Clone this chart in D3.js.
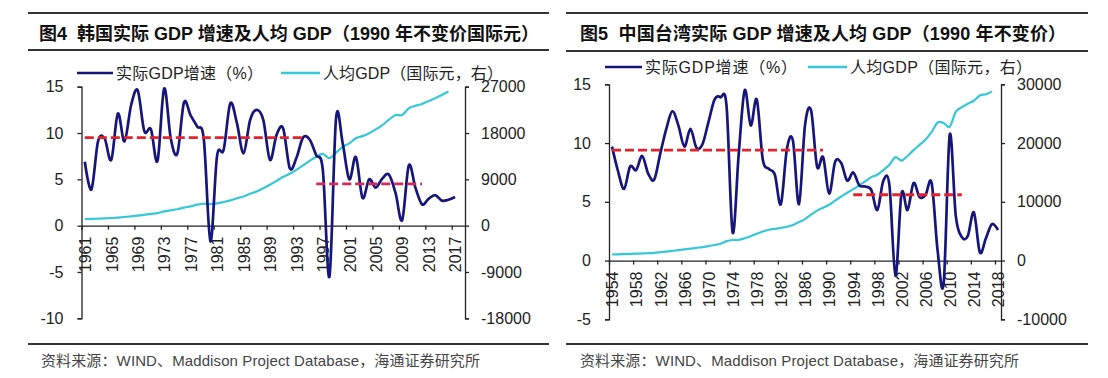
<!DOCTYPE html>
<html>
<head>
<meta charset="utf-8">
<script src="https://cdn.jsdelivr.net/npm/d3@7"></script>
<style>
body { margin: 0; background: #fff; }
svg { display: block; font-family: "Liberation Sans", Arial, "Noto Sans CJK SC", sans-serif; }
</style>
</head>
<body>
<svg id="chart" width="1108" height="378"></svg>
<script>
// ---------------- data ----------------
// Korea, 1961-2017 real GDP growth (%), per capita GDP 1961-2016
var krStartYear = 1961;
var krGrowth = [6.9, 3.9, 9.1, 9.4, 7.1, 12.1, 9.1, 13.0, 14.6, 10.2,
    10.4, 7.0, 14.8, 9.4, 7.8, 13.3, 11.9, 10.7, 9.3, -1.7,
    7.5, 8.2, 13.2, 11.1, 7.8, 11.4, 12.5, 11.4, 7.1, 9.8,
    10.5, 6.2, 7.3, 9.5, 9.3, 7.6, 6.0, -5.5, 11.6, 8.9,
    5.0, 7.4, 3.0, 5.0, 4.1, 5.1, 5.5, 3.5, 0.6, 6.5,
    4.1, 2.3, 2.9, 3.3, 2.7, 2.8, 3.1];
var krPerCapita = [1290, 1300, 1360, 1420, 1490, 1580, 1680, 1800, 1940, 2100,
    2280, 2430, 2780, 2990, 3180, 3510, 3750, 4080, 4260, 4200,
    4330, 4590, 4910, 5320, 5680, 6210, 6650, 7280, 7950, 8700,
    9500, 10100, 10850, 11700, 12600, 13400, 13950, 13100, 14200, 15300,
    16000, 17000, 17400, 17950, 18700, 19550, 20600, 21500, 21500, 22800,
    23300, 23650, 24200, 24750, 25400, 26050];
var krTickYears = [1961, 1965, 1969, 1973, 1977, 1981, 1985, 1989, 1993, 1997, 2001, 2005, 2009, 2013, 2017];
var krAvg = [{from: 1961, to: 1994, value: 9.5, color: "#e3232b"},
             {from: 1996, to: 2012, value: 4.5, color: "#d4275a"}];
var krLeftTicks = [-10, -5, 0, 5, 10, 15];
var krRightTicks = [-18000, -9000, 0, 9000, 18000, 27000];

// Taiwan, 1954-2018 real GDP growth (%), per capita GDP 1954-2017
var twStartYear = 1954;
var twGrowth = [9.7, 7.6, 6.1, 8.0, 7.7, 8.9, 7.4, 6.9, 9.1, 11.2,
    12.7, 11.5, 9.7, 11.2, 9.6, 9.9, 11.8, 13.7, 13.9, 13.1,
    2.4, 9.0, 14.5, 11.5, 13.7, 8.6, 7.8, 7.3, 4.8, 9.5,
    10.2, 4.8, 11.5, 12.8, 8.0, 8.8, 5.7, 8.4, 8.3, 6.8,
    7.5, 6.4, 6.3, 6.0, 4.3, 6.8, 6.4, -1.3, 5.7, 4.3,
    6.6, 5.4, 5.6, 6.6, 0.8, -1.9, 10.7, 3.8, 2.0, 2.1,
    4.1, 0.7, 1.9, 3.1, 2.6];
var twPerCapita = [1030, 1060, 1090, 1130, 1170, 1210, 1260, 1320, 1420, 1530,
    1650, 1770, 1890, 2030, 2170, 2300, 2460, 2650, 2870, 3300,
    3500, 3520, 3800, 4150, 4570, 4950, 5250, 5400, 5550, 5750,
    6050, 6550, 7050, 7800, 8500, 9000, 9500, 10200, 10900, 11550,
    12150, 12800, 13500, 14200, 14600, 15400, 16300, 17600, 17000, 17800,
    18800, 19700, 20600, 21900, 23500, 23400, 22800, 25300, 26100, 26700,
    27200, 28100, 28300, 28800];
var twTickYears = [1954, 1958, 1962, 1966, 1970, 1974, 1978, 1982, 1986, 1990, 1994, 1998, 2002, 2006, 2010, 2014, 2018];
var twAvg = [{from: 1954, to: 1989, value: 9.4, color: "#e3232b"},
             {from: 1994, to: 2012, value: 5.6, color: "#e3232b"}];
var twLeftTicks = [-5, 0, 5, 10, 15];
var twRightTicks = [-10000, 0, 10000, 20000, 30000];

var legendNames = ["实际GDP增速（%）", "人均GDP（国际元，右）"];
var sourceText = "资料来源：WIND、Maddison Project Database，海通证券研究所";

var NAVY = "#16167a", CYAN = "#34c8d8";

var svg = d3.select("#chart");

function drawPanel(p) {
    var g = svg.append("g");

    // frame lines
    [p.topLine, p.titleLine, p.bottomLine].forEach(function(yy, i) {
        g.append("line")
            .attr("x1", p.frame[0]).attr("x2", p.frame[1])
            .attr("y1", yy).attr("y2", yy)
            .attr("stroke", "#333").attr("stroke-width", i == 0 ? 2 : 2.2);
    });

    g.append("text")
        .attr("x", p.titleX).attr("y", p.titleY)
        .style("white-space", "pre")
        .attr("font-size", 18).attr("font-weight", "bold").attr("fill", "#111")
        .attr("textLength", p.titleWidth).attr("lengthAdjust", "spacing")
        .text(p.title);

    // legend
    var lg = g.append("g").attr("transform", "translate(0," + p.legendY + ")");
    [NAVY, CYAN].forEach(function(c, i) {
        lg.append("line").attr("x1", p.legendX[i][0]).attr("x2", p.legendX[i][1])
            .attr("y1", 0).attr("y2", 0).attr("stroke", c).attr("stroke-width", 2.6);
        lg.append("text").attr("x", p.legendX[i][1] + 3).attr("y", 5.5)
            .attr("font-size", 16).attr("fill", "#222")
            .attr("textLength", p.legendW[i]).attr("lengthAdjust", "spacing")
            .text(legendNames[i]);
    });

    // scales
    var x = d3.scaleLinear().domain([p.start, p.endBoundary]).range(p.xRange);
    var y = d3.scaleLinear().domain(d3.extent(p.leftTicks)).range(p.yRange);
    var y2 = d3.scaleLinear().domain(d3.extent(p.rightTicks)).range(p.yRange);
    var cx = function(i) { return x(p.start + i + 0.5); };

    // axes
    var ax = g.append("g").attr("transform", "translate(" + p.xRange[0] + ",0)")
        .call(d3.axisLeft(y).tickValues(p.leftTicks).tickSize(4).tickSizeOuter(4).tickPadding(14)
            .tickFormat(function(d) { return String(d); }));
    var ax2 = g.append("g").attr("transform", "translate(" + p.xRange[1] + ",0)")
        .call(d3.axisRight(y2).tickValues(p.rightTicks).tickSize(4).tickSizeOuter(4).tickPadding(12)
            .tickFormat(function(d) { return String(d); }));
    var step = x(p.start + 1) - x(p.start);
    var axb = g.append("g").attr("transform", "translate(0," + y(0) + ")")
        .call(d3.axisBottom(x).tickValues(p.tickYears).tickSize(4).tickSizeOuter(0)
            .tickFormat(function(d) { return String(d); }));
    axb.selectAll("text")
        .attr("text-anchor", "end")
        .attr("transform", "translate(" + (step / 2) + ",0) rotate(-90)")
        .attr("x", -11).attr("y", 0).attr("dy", "0.36em");

    [ax, ax2, axb].forEach(function(a) {
        a.selectAll("path, line").attr("stroke", "#222").attr("stroke-width", 1.3);
        a.selectAll("text").attr("font-size", 16).attr("fill", "#222")
            .attr("font-family", "Liberation Sans, Arial, sans-serif");
    });

    var curve = d3.curveCardinal.tension(0);

    g.append("path")
        .datum(p.perCapita)
        .attr("fill", "none").attr("stroke", CYAN).attr("stroke-width", 2.2)
        .attr("d", d3.line().curve(curve).x(function(d, i) { return cx(i); }).y(function(d) { return y2(d); }));

    g.append("path")
        .datum(p.growth)
        .attr("fill", "none").attr("stroke", NAVY).attr("stroke-width", 2.7)
        .attr("stroke-linejoin", "round")
        .attr("d", d3.line().curve(curve).x(function(d, i) { return cx(i); }).y(function(d) { return y(d); }));

    // average dashes
    p.avg.forEach(function(a) {
        g.append("line")
            .attr("x1", x(a.from + 0.5)).attr("x2", x(a.to + 0.5))
            .attr("y1", y(a.value)).attr("y2", y(a.value))
            .attr("stroke", a.color).attr("stroke-width", 2.8)
            .attr("stroke-dasharray", "9,4");
    });

    g.append("text")
        .attr("x", p.sourceX).attr("y", p.sourceY)
        .attr("font-size", 15).attr("fill", "#444")
        .attr("textLength", 439).attr("lengthAdjust", "spacing")
        .text(sourceText);
}

drawPanel({
    title: "图4  韩国实际 GDP 增速及人均 GDP（1990 年不变价国际元）",
    titleWidth: 500,
    frame: [28, 549], topLine: 13, titleLine: 50, bottomLine: 344,
    titleX: 39, titleY: 40, legendY: 73,
    legendX: [[77, 113], [281, 320]], legendW: [147, 180],
    start: krStartYear, endBoundary: 2019,
    xRange: [81.5, 465], yRange: [318.3, 86.7],
    leftTicks: krLeftTicks, rightTicks: krRightTicks,
    growth: krGrowth, perCapita: krPerCapita, tickYears: krTickYears, avg: krAvg,
    sourceX: 41, sourceY: 366
});

drawPanel({
    title: "图5  中国台湾实际 GDP 增速及人均 GDP（1990 年不变价）",
    titleWidth: 486,
    frame: [566, 1088], topLine: 13, titleLine: 51, bottomLine: 344,
    titleX: 580, titleY: 40, legendY: 67,
    legendX: [[605, 642], [808, 847]], legendW: [152, 182],
    start: twStartYear, endBoundary: 2019,
    xRange: [609, 1001], yRange: [319.3, 84.3],
    leftTicks: twLeftTicks, rightTicks: twRightTicks,
    growth: twGrowth, perCapita: twPerCapita, tickYears: twTickYears, avg: twAvg,
    sourceX: 580, sourceY: 366
});
</script>
</body>
</html>
